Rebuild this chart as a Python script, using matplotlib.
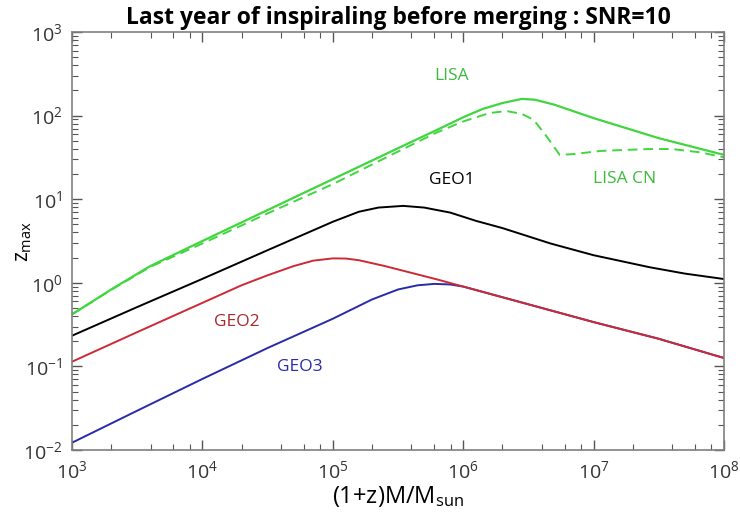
import numpy as np
import matplotlib
matplotlib.use("Agg")
import matplotlib.pyplot as plt
from matplotlib.ticker import LogLocator, NullFormatter

plt.rcParams['font.family'] = ['Open Sans', 'DejaVu Sans']
plt.rcParams['mathtext.default'] = 'regular'
plt.rcParams['axes.unicode_minus'] = False

# values, as log10 of mass and log10 of z_max
lisa_logm = [3.0, 3.15, 3.3, 3.45, 3.6, 3.8, 4.0, 4.5, 5.0, 5.5, 5.8, 6.0, 6.15,
             6.3, 6.45, 6.55, 6.7, 7.0, 7.5, 8.0]
lisa_logz = [-0.377, -0.23, -0.08, 0.06, 0.2, 0.35, 0.5, 0.87, 1.24, 1.61, 1.83,
             1.98, 2.08, 2.15, 2.2, 2.19, 2.13, 1.97, 1.73, 1.53]

lisacn_logm = [3.0, 3.3, 3.6, 4.0, 4.5, 5.0, 5.5, 5.8, 6.0, 6.2, 6.33, 6.45, 6.54,
               6.64, 6.74, 6.85, 7.05, 7.25, 7.43, 7.6, 7.82, 8.0]
lisacn_logz = [-0.377, -0.085, 0.19, 0.47, 0.83, 1.18, 1.57, 1.8, 1.93, 2.03, 2.055,
               2.02, 1.95, 1.75, 1.53, 1.54, 1.577, 1.59, 1.6, 1.6, 1.56, 1.5]

geo1_logm = [3.0, 3.5, 4.0, 4.5, 5.0, 5.2, 5.35, 5.54, 5.7, 5.9, 6.1, 6.3, 6.67,
             7.0, 7.43, 7.7, 8.0]
geo1_logz = [-0.633, -0.29, 0.047, 0.39, 0.73, 0.85, 0.9, 0.92, 0.9, 0.84, 0.74,
             0.655, 0.47, 0.33, 0.186, 0.11, 0.045]

geo2_logm = [3.0, 3.5, 4.0, 4.3, 4.5, 4.7, 4.85, 5.0, 5.1, 5.2, 5.4, 5.6, 5.8,
             6.0, 6.4, 7.0, 7.5, 8.0]
geo2_logz = [-0.944, -0.59, -0.24, -0.03, 0.09, 0.2, 0.265, 0.292, 0.29, 0.27,
             0.2, 0.12, 0.04, -0.045, -0.215, -0.47, -0.67, -0.9]

geo3_logm = [3.0, 3.5, 4.0, 4.5, 5.0, 5.3, 5.5, 5.65, 5.78, 5.9, 6.0, 6.4, 7.0,
             7.5, 8.0]
geo3_logz = [-1.913, -1.53, -1.15, -0.78, -0.43, -0.2, -0.08, -0.03, -0.013,
             -0.02, -0.045, -0.215, -0.47, -0.67, -0.9]

fig = plt.figure(figsize=(7.4, 5.18), dpi=100)
ax = fig.add_axes([0.0973, 0.1313, 0.8811, 0.8069])

green = '#3fd63f'
ax.plot(10**np.array(lisa_logm), 10**np.array(lisa_logz), color=green, lw=1.6)
ax.plot(10**np.array(lisacn_logm), 10**np.array(lisacn_logz), color=green, lw=1.4,
        ls=(0, (5, 3)))
ax.plot(10**np.array(geo1_logm), 10**np.array(geo1_logz), color='black', lw=1.4)
ax.plot(10**np.array(geo3_logm), 10**np.array(geo3_logz), color='#2a2aa8', lw=1.4)
ax.plot(10**np.array(geo2_logm), 10**np.array(geo2_logz), color='#cc2a35', lw=1.4)

lab = dict(fontsize=12.5, ha='center', va='center')
ax.text(8.2e5, 298, 'LISA', color='#3cba3c', **lab)
ax.text(1.74e7, 17.3, 'LISA CN', color='#3cba3c', **lab)
ax.text(8.2e5, 17, 'GEO1', color='black', **lab)
ax.text(1.83e4, 0.343, 'GEO2', color='#a8282d', **lab)
ax.text(5.6e4, 0.099, 'GEO3', color='#2a2aa8', **lab)

ax.set_xscale('log')
ax.set_yscale('log')
ax.set_xlim(1e3, 1e8)
ax.set_ylim(1e-2, 1e3)

ax.xaxis.set_major_locator(LogLocator(base=10, numticks=10))
ax.xaxis.set_minor_locator(LogLocator(base=10, subs=[2, 4, 6, 8], numticks=20))
ax.yaxis.set_major_locator(LogLocator(base=10, numticks=10))
ax.yaxis.set_minor_locator(LogLocator(base=10, subs=np.arange(2, 10), numticks=20))
ax.xaxis.set_minor_formatter(NullFormatter())
ax.yaxis.set_minor_formatter(NullFormatter())

for s in ax.spines.values():
    s.set_color('#808080')
    s.set_linewidth(1.2)
ax.tick_params(which='both', direction='in', top=True, right=True, color='#555555',
               labelcolor='#333333', labelsize=14)
ax.tick_params(which='major', length=7, width=1)
ax.tick_params(which='minor', length=4, width=0.8)
ax.tick_params(axis='x', pad=7)
ax.tick_params(axis='y', pad=7)

ax.set_xlabel('(1+z)M/M$_{sun}$', fontsize=17, labelpad=2)
ax.set_ylabel('z$_{max}$', fontsize=15)
ax.yaxis.set_label_coords(-0.058, 0.5)
ax.set_title('Last year of inspiraling before merging : SNR=10', fontsize=16.5,
             fontweight='bold', pad=6)

fig.savefig('out.png', dpi=100)
